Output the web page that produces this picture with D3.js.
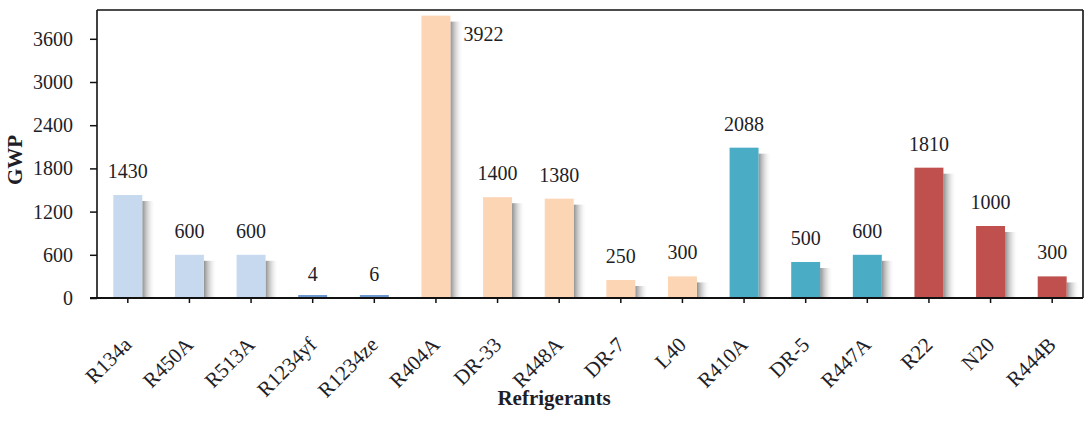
<!DOCTYPE html>
<html lang="en">
<head>
    <meta charset="UTF-8">
    <script src="https://cdn.jsdelivr.net/npm/d3@7"></script>
    <style>
        body { margin: 0; background: #fff; }
        text { font-family: "Liberation Serif", "Times New Roman", serif; fill: #1e1e28; }
    </style>
</head>
<body>
    <div id="chart"></div>
</body>
<script>
    // DATA:
    const REFRIGERANTS = ["R134a", "R450A", "R513A", "R1234yf", "R1234ze", "R404A", "DR-33", "R448A",
        "DR-7", "L40", "R410A", "DR-5", "R447A", "R22", "N20", "R444B"];
    const GWP = [1430, 600, 600, 4, 6, 3922, 1400, 1380, 250, 300, 2088, 500, 600, 1810, 1000, 300];
    // colour group of each bar
    const GROUPS = ["a", "a", "a", "b", "b", "c", "c", "c", "c", "c", "d", "d", "d", "e", "e", "e"];
    const GROUP_COLORS = { a: "#c6d9ee", b: "#6b98d1", c: "#fcd5b5", d: "#4bacc6", e: "#c0504d" };
    const Y_TICKS = [0, 600, 1200, 1800, 2400, 3000, 3600];
    const Y_MAX = 4000;

    // SIZES:
    const WIDTH = 1092;
    const HEIGHT = 422;
    const margin = { left: 97, right: 9, top: 10, bottom: 124 };

    const svg = d3.select("#chart").append("svg")
        .attr("width", WIDTH)
        .attr("height", HEIGHT);

    // scales
    const x = d3.scaleBand()
        .domain(REFRIGERANTS)
        .range([margin.left, WIDTH - margin.right])
        .paddingInner(0.53)
        .paddingOuter(0.265);
    const y = d3.scaleLinear()
        .domain([0, Y_MAX])
        .range([HEIGHT - margin.bottom, margin.top]);

    // soft shadow on the right side of each bar
    const grad = svg.append("defs").append("linearGradient")
        .attr("id", "shadow")
        .attr("x1", "0").attr("x2", "1").attr("y1", "0").attr("y2", "0");
    grad.append("stop").attr("offset", "0").attr("stop-color", "#444").attr("stop-opacity", 0.6);
    grad.append("stop").attr("offset", "0.5").attr("stop-color", "#999").attr("stop-opacity", 0.3);
    grad.append("stop").attr("offset", "1").attr("stop-color", "#fff").attr("stop-opacity", 0);

    const rows = REFRIGERANTS.map((name, i) => ({ name: name, value: GWP[i], group: GROUPS[i] }));

    // shadows
    svg.append("g").selectAll("rect")
        .data(rows.filter(d => d.value > 50))
        .join("rect")
        .attr("x", d => x(d.name) + x.bandwidth())
        .attr("y", d => y(d.value) + 6)
        .attr("width", 13)
        .attr("height", d => y(0) - y(d.value) - 6)
        .attr("fill", "url(#shadow)");

    // bars
    svg.append("g").selectAll("rect")
        .data(rows)
        .join("rect")
        .attr("x", d => x(d.name))
        .attr("y", d => Math.min(y(d.value), y(0) - 3))
        .attr("width", x.bandwidth())
        .attr("height", d => Math.max(y(0) - y(d.value), 3))
        .attr("fill", d => GROUP_COLORS[d.group]);

    // value labels - the tallest bar gets its label on the right side
    svg.append("g").selectAll("text")
        .data(rows)
        .join("text")
        .attr("x", d => d.value > Y_MAX * 0.9 ? x(d.name) + x.bandwidth() + 13 : x(d.name) + x.bandwidth() / 2)
        .attr("y", d => d.value > Y_MAX * 0.9 ? y(d.value) + 25 : y(d.value) - 17)
        .attr("text-anchor", d => d.value > Y_MAX * 0.9 ? "start" : "middle")
        .style("font-size", "20px")
        .text(d => d.value);

    // y axis
    const yAxis = svg.append("g")
        .attr("transform", `translate(${margin.left},0)`)
        .call(d3.axisLeft(y).tickValues(Y_TICKS).tickFormat(d3.format("d")).tickSize(7).tickPadding(17));
    yAxis.select(".domain").remove();
    yAxis.selectAll("line").attr("stroke", "#111").attr("stroke-width", 1.5);
    yAxis.selectAll("text").style("font-size", "20px");

    // x axis ticks and rotated labels
    const xAxis = svg.append("g")
        .attr("transform", `translate(0,${y(0)})`)
        .call(d3.axisBottom(x).tickSize(5));
    xAxis.select(".domain").remove();
    xAxis.selectAll("line").attr("stroke", "#111").attr("stroke-width", 1.5);
    xAxis.selectAll("text")
        .attr("x", 0).attr("y", 0).attr("dy", 0)
        .attr("text-anchor", "end")
        .attr("transform", "translate(5,48) rotate(-45)")
        .style("font-size", "21px");

    // frame
    const frame = svg.append("g")
        .attr("fill", "none")
        .attr("stroke", "#111")
        .attr("stroke-width", 1.6);
    frame.append("line")
        .attr("x1", margin.left).attr("x2", margin.left)
        .attr("y1", margin.top).attr("y2", y(0));
    frame.append("line")
        .attr("x1", WIDTH - margin.right).attr("x2", WIDTH - margin.right)
        .attr("y1", margin.top).attr("y2", y(0));
    frame.append("line")
        .attr("x1", margin.left).attr("x2", WIDTH - margin.right)
        .attr("y1", margin.top).attr("y2", margin.top);
    frame.append("line")
        .attr("x1", margin.left - 7).attr("x2", WIDTH - margin.right)
        .attr("y1", y(0)).attr("y2", y(0))
        .attr("stroke-width", 2);

    // axis titles
    svg.append("text")
        .attr("transform", `translate(22,160) rotate(-90)`)
        .attr("text-anchor", "middle")
        .style("font-size", "21px")
        .style("font-weight", "bold")
        .text("GWP");
    svg.append("text")
        .attr("x", 554)
        .attr("y", 405)
        .attr("text-anchor", "middle")
        .style("font-size", "21px")
        .style("font-weight", "bold")
        .text("Refrigerants");
</script>
</html>
